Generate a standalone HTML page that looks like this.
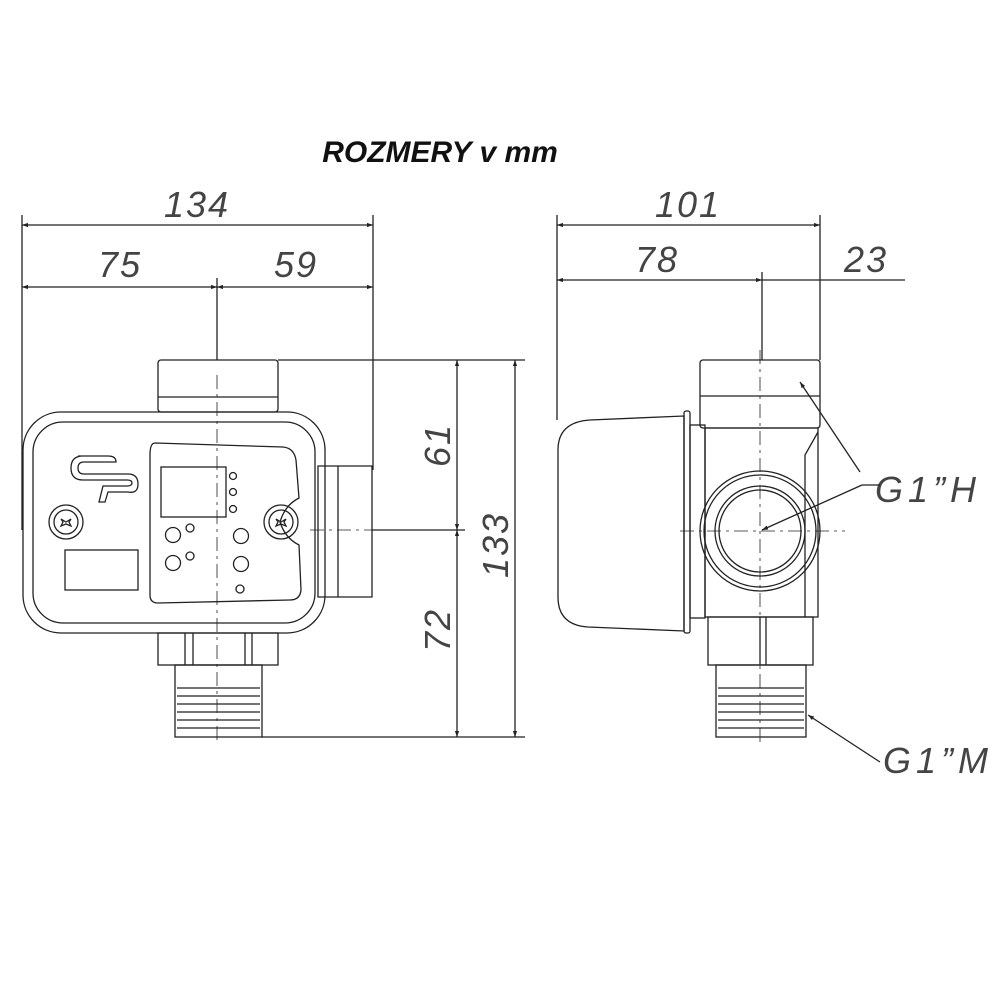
<!DOCTYPE html>
<html><head><style>body{margin:0;background:#fff}svg{display:block}</style></head><body>
<svg width="1000" height="1000" viewBox="0 0 1000 1000" xmlns="http://www.w3.org/2000/svg">
<defs><marker id="a" viewBox="0 0 10 10" refX="10" refY="5" markerWidth="9" markerHeight="6" orient="auto-start-reverse" markerUnits="userSpaceOnUse"><path d="M0,1.5L10,5L0,8.5z" fill="#222"/></marker></defs>
<text x="440" y="162" text-anchor="middle" font-family="Liberation Sans,sans-serif" font-weight="bold" font-style="italic" font-size="30" fill="#111">ROZMERY v mm</text>
<g font-family="Liberation Sans,sans-serif" font-style="italic" font-size="36" fill="#444" text-anchor="middle" letter-spacing="2">
<text x="197" y="217">134</text><text x="120" y="277">75</text><text x="296" y="277">59</text>
<text x="688" y="217">101</text><text x="657" y="272">78</text><text x="866" y="272">23</text>
<text transform="translate(450,445) rotate(-90)">61</text>
<text transform="translate(450,630) rotate(-90)">72</text>
<text transform="translate(508,545) rotate(-90)">133</text>
<text x="928" y="502" letter-spacing="5">G1”H</text><text x="938" y="773" letter-spacing="5">G1”M</text>
</g>
<g stroke="#222" stroke-width="1.3" fill="none">
<line x1="22" y1="215" x2="22" y2="530"/><line x1="373" y1="215" x2="373" y2="470"/>
<line x1="22" y1="225" x2="373" y2="225" marker-start="url(#a)" marker-end="url(#a)"/>
<line x1="22" y1="287" x2="217" y2="287" marker-start="url(#a)" marker-end="url(#a)"/>
<line x1="217" y1="287" x2="373" y2="287" marker-start="url(#a)" marker-end="url(#a)"/>
<line x1="217" y1="278" x2="217" y2="360"/>
<line x1="278" y1="360" x2="525" y2="360"/><line x1="372" y1="530" x2="465" y2="530"/><line x1="262" y1="737" x2="525" y2="737"/>
<line x1="457" y1="360" x2="457" y2="530" marker-start="url(#a)" marker-end="url(#a)"/>
<line x1="457" y1="530" x2="457" y2="737" marker-start="url(#a)" marker-end="url(#a)"/>
<line x1="515" y1="360" x2="515" y2="737" marker-start="url(#a)" marker-end="url(#a)"/>
<line x1="557" y1="215" x2="557" y2="420"/><line x1="820" y1="215" x2="820" y2="360"/><line x1="762" y1="272" x2="762" y2="360"/>
<line x1="557" y1="225" x2="820" y2="225" marker-start="url(#a)" marker-end="url(#a)"/>
<line x1="557" y1="280" x2="762" y2="280" marker-start="url(#a)" marker-end="url(#a)"/>
<line x1="762" y1="280" x2="820" y2="280"/><line x1="820" y1="280" x2="905" y2="280"/>
<line x1="800" y1="382" x2="860" y2="472" marker-start="url(#a)"/>
<line x1="762" y1="530" x2="862" y2="485" marker-start="url(#a)"/>
<line x1="862" y1="485" x2="880" y2="485"/>
<line x1="808" y1="715" x2="880" y2="762" marker-start="url(#a)"/>
<rect x="158" y="360" width="120" height="52" rx="3"/><line x1="158" y1="397" x2="278" y2="397"/>
<path d="M318,466h54v131h-54z"/><line x1="338" y1="466" x2="338" y2="597"/>
<rect x="23" y="412" width="302" height="221" rx="38"/>
<rect x="33" y="422" width="282" height="201" rx="30"/>
<path d="M155,443L283,447Q294,448 296,460L299,498Q285,505 280,522Q285,538 299,545L301,590Q300,600 290,600L158,603Q150,603 150,595L150,455Q150,443 155,443z"/>
<rect x="161" y="467" width="65" height="50"/>
<circle cx="233" cy="476" r="3.5"/><circle cx="233" cy="492" r="3.5"/><circle cx="233" cy="509" r="3.5"/>
<circle cx="173" cy="535" r="7.5"/><circle cx="173" cy="563" r="7.5"/><circle cx="190" cy="528" r="4"/><circle cx="190" cy="556" r="4"/>
<circle cx="241" cy="536" r="7.5"/><circle cx="241" cy="564" r="7.5"/><circle cx="240" cy="589" r="4"/>
<circle cx="66" cy="522" r="17"/><circle cx="66" cy="522" r="12"/><path d="M61,519l5,3 5,-3 -2,3 2,4 -5,-2 -5,2 2,-4z"/>
<circle cx="281" cy="522" r="17"/><circle cx="281" cy="522" r="12"/><path d="M276,519l5,3 5,-3 -2,3 2,4 -5,-2 -5,2 2,-4z"/>
<rect x="65" y="550" width="73" height="40"/>
<path d="M78,456h30q8,0 8,6h-32q-6,0-6,6t6,6h44q10,0 10,10t-10,8h-20l-3,10h-6l4,-16h24q5,0 5,-3t-5,-3h-44q-12,0-12,-12t12,-12z"/>
<rect x="158" y="633" width="120" height="32"/>
<line x1="185" y1="633" x2="185" y2="665"/><line x1="193" y1="633" x2="193" y2="665"/><line x1="245" y1="633" x2="245" y2="665"/><line x1="252" y1="633" x2="252" y2="665"/>
<rect x="175" y="665" width="87" height="72"/>
<path d="M177,688h83M177,696h83M177,704h83M177,712h83M177,720h83M177,728h83"/>
<line x1="217" y1="375" x2="217" y2="745" stroke-dasharray="14,5,3,5" stroke-width="0.8"/>
<line x1="310" y1="530" x2="372" y2="530" stroke-dasharray="14,5,3,5" stroke-width="0.8"/>
<rect x="700" y="360" width="120" height="68" rx="3"/><line x1="700" y1="396" x2="820" y2="396"/>
<path d="M705,428h113v189h-113z"/><path d="M818,432L805,455V617"/>
<path d="M590,420L684,416V631L588,627Q558,625 558,597V450Q558,422 590,420z"/>
<rect x="684" y="411" width="6" height="222" rx="2"/><rect x="690" y="425" width="15" height="193"/>
<circle cx="760" cy="531" r="60"/><circle cx="760" cy="531" r="56"/><circle cx="760" cy="531" r="45"/><circle cx="760" cy="531" r="41"/>
<rect x="708" y="617" width="105" height="48"/><line x1="760" y1="617" x2="760" y2="665"/><line x1="766" y1="617" x2="766" y2="665"/>
<rect x="716" y="665" width="90" height="72"/>
<path d="M718,688h86M718,696h86M718,704h86M718,712h86M718,720h86M718,728h86"/>
<line x1="760" y1="350" x2="760" y2="745" stroke-dasharray="14,5,3,5" stroke-width="0.8"/>
<line x1="680" y1="531" x2="845" y2="531" stroke-dasharray="14,5,3,5" stroke-width="0.8"/>
</g>
</svg>
</body></html>
